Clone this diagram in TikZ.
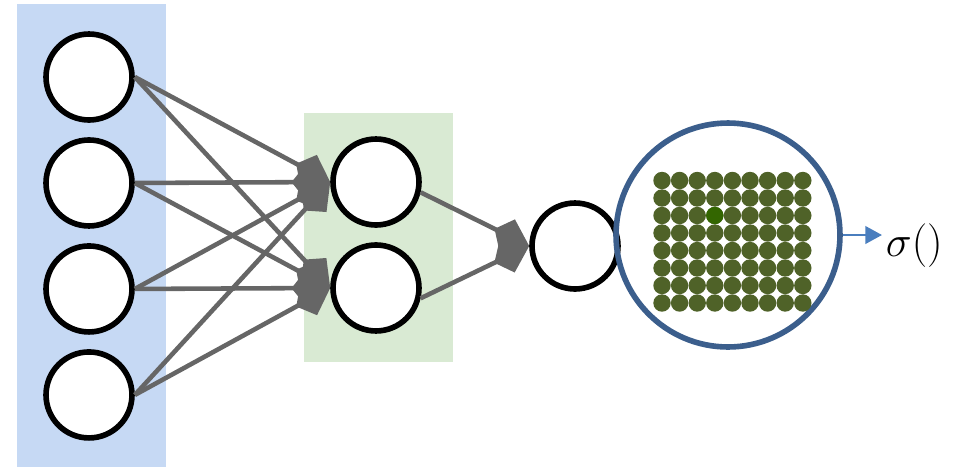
\documentclass[tikz,border=0pt]{standalone}
\usetikzlibrary{positioning, arrows.meta}
\definecolor{inblue}{HTML}{C6D9F4}
\definecolor{hidgreen}{HTML}{D9EAD3}
\definecolor{edgegray}{HTML}{666666}
\definecolor{ringblue}{HTML}{3B5E8C}
\definecolor{arrowblue}{HTML}{4A7EBE}
\definecolor{dotgreen}{HTML}{4F6228}
\definecolor{hotgreen}{HTML}{336600}

\begin{document}
\begin{tikzpicture}[x=0.02cm, y=-0.02cm, node distance=2.12cm,
      neuron/.style={circle, draw=black, fill=white, line width=3.2pt, minimum size=1.72cm},
      edge/.style={-{Kite[length=22pt, width=20pt, inset=8pt]}, draw=edgegray, line width=2.6pt},
      ring/.style={circle, draw=ringblue, line width=3.2pt, minimum size=4.48cm}]
    \useasboundingbox (0,0) rectangle (961,468);
    \fill[inblue] (17,4) rectangle (166,467);
    \fill[hidgreen] (304,113) rectangle (453,362);

    \node[neuron] (in1) at (89,77) {};
    \node[neuron] (in2) [below of=in1] {};
    \node[neuron] (in3) [below of=in2] {};
    \node[neuron] (in4) [below of=in3] {};
    \node[neuron] (h1) at (376,182) {};
    \node[neuron] (h2) [below of=h1] {};
    \node[neuron] (out) at (575,246) {};
    \node[ring] (zoom) at (728,235) {};
    \node[anchor=base west, inner sep=2pt, font=\fontsize{28}{32}\selectfont] (sig) at (882,256) {$\sigma()$};

    \foreach \i in {0,...,8}
      \foreach \j in {0,...,7}
        \fill[dotgreen] (662+17.6*\i, 180.5+17.5*\j) circle (8.7);
    \fill[hotgreen] (662+17.6*3, 180.5+17.5*2) circle (8.7);

    \foreach \i in {1,...,4}
      \foreach \j in {1,2}
        \draw[edge] (in\i.east) -- (h\j.west);
    \draw[edge] (h1.-13) -- (out.west);
    \draw[edge] (h2.-13) -- (out.west);
    \draw[-{Triangle[length=9.5pt, width=10pt]}, arrowblue, line width=1.4pt]
      (zoom.east) -- (zoom.east -| sig.west);
  \end{tikzpicture}
\end{document}
